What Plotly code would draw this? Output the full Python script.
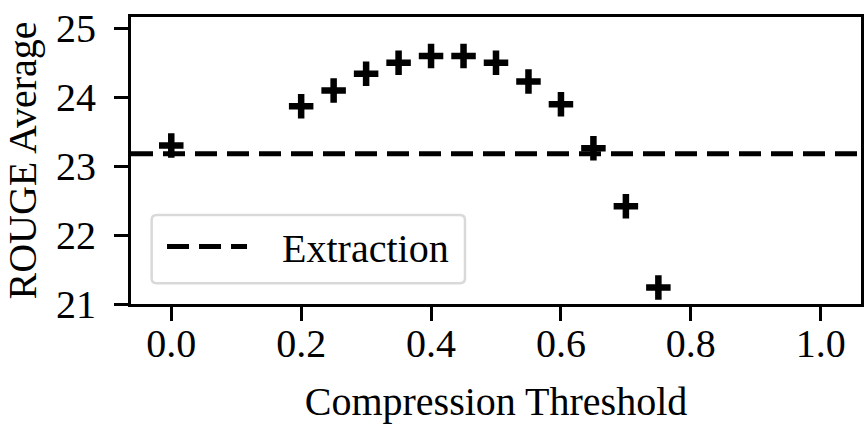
import plotly.graph_objects as go

thresholds = [0.0, 0.2, 0.25, 0.3, 0.35, 0.4, 0.45, 0.5, 0.55, 0.6, 0.65, 0.7, 0.75]
rouge_avg = [23.30, 23.87, 24.10, 24.34, 24.50, 24.60, 24.60, 24.50, 24.23, 23.90, 23.26, 22.42, 21.24]
extraction_value = 23.18
x_range = [-0.062, 1.062]
y_range = [21.0, 25.165]
x_ticks = [0.0, 0.2, 0.4, 0.6, 0.8, 1.0]
y_ticks = [21, 22, 23, 24, 25]

FONT = "Liberation Serif"
FS = 40

fig = go.Figure()
fig.add_trace(go.Scatter(
    x=x_range, y=[extraction_value, extraction_value], mode="lines",
    name="\u00a0\u00a0\u00a0Extraction",
    line=dict(color="black", width=5, dash="22px,10px"),
    showlegend=True, cliponaxis=False,
))
fig.add_trace(go.Scatter(
    x=thresholds, y=rouge_avg, mode="markers", showlegend=False,
    marker=dict(symbol="cross-thin", size=17.5, color="black",
                line=dict(color="black", width=6.5)),
    cliponaxis=False,
))

axis_common = dict(
    showline=True, linecolor="black", linewidth=3, mirror=True,
    ticks="outside", ticklen=14, tickwidth=3, tickcolor="black",
    showgrid=False, zeroline=False, automargin=False,
    tickfont=dict(family=FONT, size=FS, color="black"),
)

fig.update_layout(
    width=865, height=436,
    margin=dict(l=131, r=4, t=17, b=132),
    plot_bgcolor="white", paper_bgcolor="white",
    font=dict(family=FONT, size=FS, color="black"),
    xaxis=dict(range=x_range, tickvals=x_ticks, ticktext=[f"{v:.1f}" for v in x_ticks],
               ticklabelstandoff=-12,
               title=dict(text="Compression Threshold", font=dict(family=FONT, size=FS), standoff=22),
               **axis_common),
    yaxis=dict(range=y_range, tickvals=y_ticks, ticklabelstandoff=10,
               title=dict(text="ROUGE Average", font=dict(family=FONT, size=FS), standoff=10),
               **axis_common),
    legend=dict(x=0.0425, y=0.314, xanchor="left", yanchor="top",
                bgcolor="rgba(0,0,0,0)", borderwidth=0,
                font=dict(family=FONT, size=FS, color="black"),
                itemwidth=80),
    shapes=[dict(type="path", xref="paper", yref="paper",
                 path=("M 0.0351,0.0721 L 0.4507,0.0721 Q 0.4575,0.0721 0.4575,0.0895 "
                       "L 0.4575,0.2926 Q 0.4575,0.310 0.4507,0.310 L 0.0351,0.310 "
                       "Q 0.0283,0.310 0.0283,0.2926 L 0.0283,0.0895 Q 0.0283,0.0721 0.0351,0.0721 Z"),
                 line=dict(color="#d9d9d9", width=2.5), fillcolor="rgba(255,255,255,0.8)",
                 layer="below")],
)

fig.write_html("out.html", config={"displayModeBar": False},
               post_script="document.body.style.margin='0';document.body.style.overflow='hidden';")
